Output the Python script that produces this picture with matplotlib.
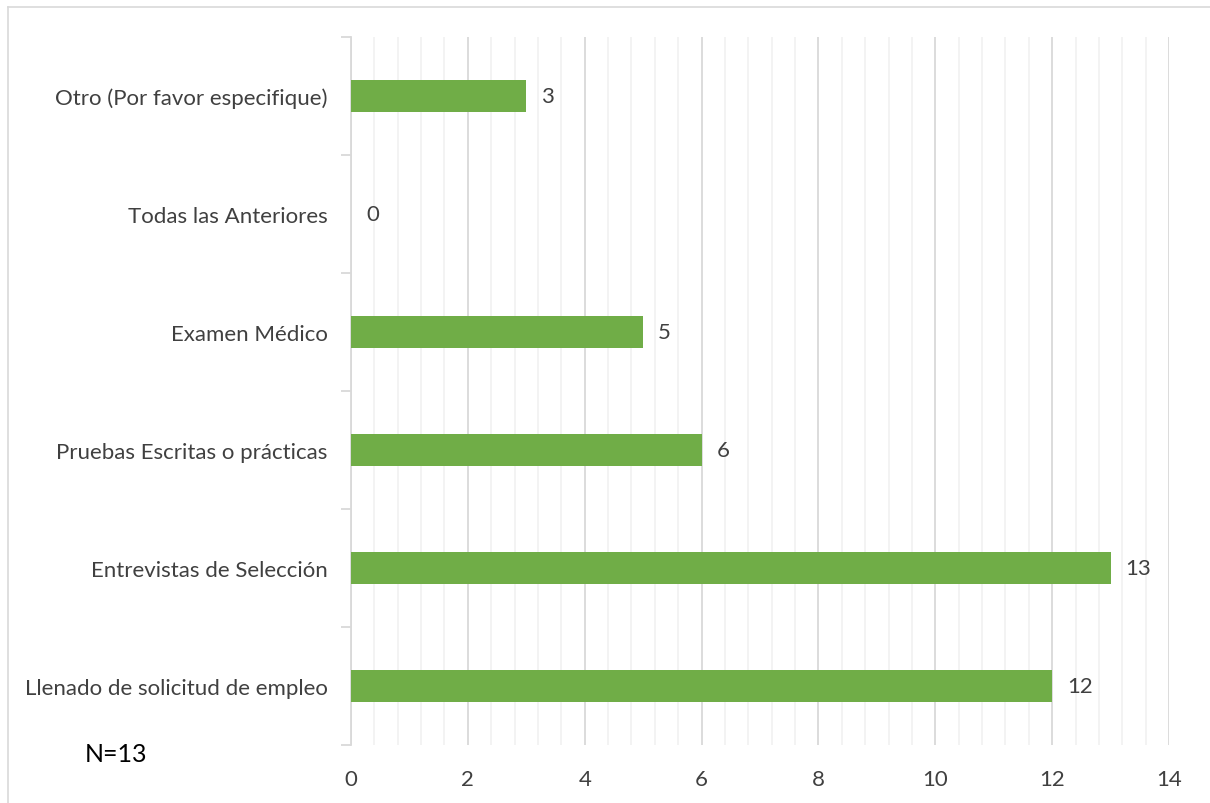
import matplotlib
matplotlib.use("Agg")
import matplotlib.pyplot as plt
from matplotlib.ticker import MultipleLocator, FixedLocator, NullFormatter
from matplotlib.lines import Line2D

categories = ["Llenado de solicitud de empleo", "Entrevistas de Selección",
              "Pruebas Escritas o prácticas", "Examen Médico",
              "Todas las Anteriores", "Otro (Por favor especifique)"]
values = [12, 13, 6, 5, 0, 3]
xticks = [0, 2, 4, 6, 8, 10, 12, 14]

GREEN = "#70AD47"
TXT = "#404040"
plt.rcParams['font.family'] = ['Lato', 'DejaVu Sans']
FS = 16

fig = plt.figure(figsize=(12.10, 8.04), dpi=100)
ax = fig.add_axes([351/1210, 1 - 746/804, (1169-351)/1210, (746-38)/804])

y = list(range(len(categories)))
ax.barh(y, values, height=0.27, color=GREEN, zorder=3)
for yi, v in zip(y, values):
    ax.annotate(str(v), (v, yi), xytext=(15, 0), textcoords="offset pixels",
                va="center", ha="left", fontsize=FS, color=TXT)

ax.set_xlim(0, 14)
ax.set_ylim(-0.5, len(categories) - 0.5)
ax.set_xticks(xticks)
ax.set_xticklabels([str(t) for t in xticks], fontsize=FS, color=TXT)
ax.xaxis.set_minor_locator(MultipleLocator(0.4))
ax.grid(axis="x", which="major", color="#D9D9D9", linewidth=1.3, zorder=0)
ax.grid(axis="x", which="minor", color="#F2F2F2", linewidth=1.3, zorder=0)
ax.tick_params(axis="x", which="both", length=0, pad=17)

ax.set_yticks(y)
ax.set_yticklabels(categories, fontsize=FS, color=TXT)
ax.yaxis.set_minor_locator(FixedLocator([i - 0.5 for i in range(len(categories) + 1)]))
ax.yaxis.set_minor_formatter(NullFormatter())
ax.tick_params(axis="y", which="major", length=0, pad=17)
ax.tick_params(axis="y", which="minor", length=7, color="#D9D9D9", width=1.3)

for s in ["top", "right", "bottom"]:
    ax.spines[s].set_visible(False)
ax.spines["left"].set_color("#D9D9D9")
ax.spines["left"].set_linewidth(1.3)

fig.text(85/1210, 1 - 755/804, "N=13", fontsize=18, color="black", va="center", ha="left")

# outer chart-area border (only top and left edges visible)
fig.add_artist(Line2D([8/1210, 1], [1 - 8/804, 1 - 8/804], transform=fig.transFigure,
                      color="#D9D9D9", linewidth=1.2))
fig.add_artist(Line2D([8/1210, 8/1210], [0, 1 - 8/804], transform=fig.transFigure,
                      color="#D9D9D9", linewidth=1.2))

fig.savefig("out.png", dpi=100)
